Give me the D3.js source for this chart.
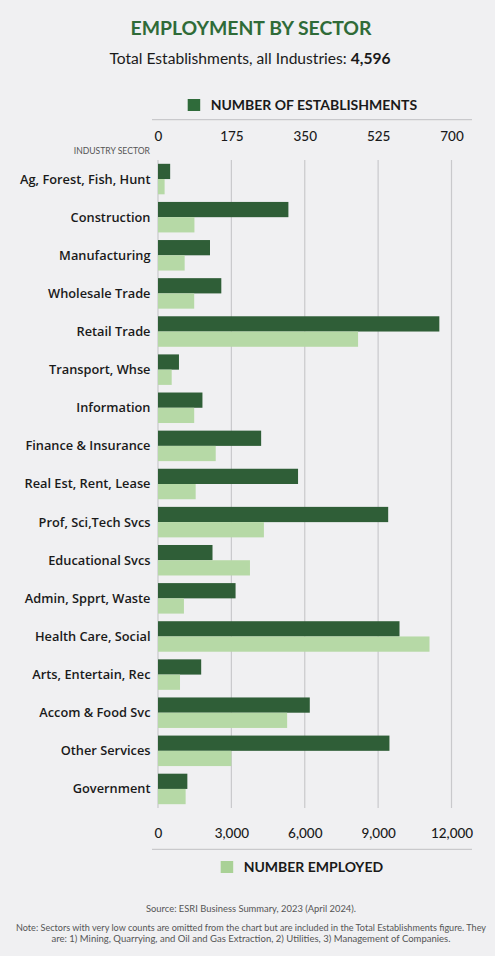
<!DOCTYPE html>
<html>
<head>
<meta charset="utf-8">
<script src="https://cdn.jsdelivr.net/npm/d3@7"></script>
<style>
  body { margin: 0; background: #f0f0f2; }
  svg { display: block; }
</style>
</head>
<body>
<div id="chart"></div>
<script>
const sectors = ["Ag, Forest, Fish, Hunt", "Construction", "Manufacturing", "Wholesale Trade",
  "Retail Trade", "Transport, Whse", "Information", "Finance & Insurance", "Real Est, Rent, Lease",
  "Prof, Sci,Tech Svcs", "Educational Svcs", "Admin, Spprt, Waste", "Health Care, Social",
  "Arts, Entertain, Rec", "Accom & Food Svc", "Other Services", "Government"];
const establishments = [29, 311, 124, 151, 671, 50, 106, 246, 334, 549, 130, 185, 576, 103, 362, 552, 70];
const employed = [270, 1490, 1090, 1480, 8180, 560, 1480, 2360, 1540, 4330, 3760, 1060, 11100, 900, 5280, 3000, 1130];
const estTicks = [0, 175, 350, 525, 700];
const empTicks = [0, 3000, 6000, 9000, 12000];

const W = 495, H = 956;
const margin = {top: 160, left: 158, right: 43.5, bottom: 148};
const dark = "#2f5e37", light = "#b6d9a6", grid = "#c9c9cc";

const svg = d3.select("#chart").append("svg")
  .attr("width", W).attr("height", H);

// title block
svg.append("text")
  .attr("x", 251).attr("y", 35)
  .attr("text-anchor", "middle")
  .attr("font-family", "Lato").attr("font-weight", 700).attr("font-size", 19.4)
  .attr("fill", "#2f6b38")
  .text("EMPLOYMENT BY SECTOR");

const sub = svg.append("text")
  .attr("x", 250).attr("y", 64)
  .attr("text-anchor", "middle")
  .attr("font-family", "Lato").attr("font-size", 15.6)
  .attr("fill", "#1a1a1a");
sub.append("tspan").text("Total Establishments, all Industries: ");
sub.append("tspan").attr("font-weight", 700).text("4,596");

const xEst = d3.scaleLinear().domain([0, 700]).range([margin.left, W - margin.right]);
const xEmp = d3.scaleLinear().domain([0, 12000]).range([margin.left, W - margin.right]);
const y = d3.scaleBand().domain(sectors)
  .range([margin.top, H - margin.bottom])
  .paddingInner(0.2).paddingOuter(0.1);

// vertical grid lines
svg.append("g").selectAll("line")
  .data(estTicks).join("line")
    .attr("x1", d => xEst(d)).attr("x2", d => xEst(d))
    .attr("y1", margin.top).attr("y2", H - margin.bottom)
    .attr("stroke", grid).attr("stroke-width", 1.2);

// top axis (establishments)
const topAxis = svg.append("g")
  .attr("transform", `translate(0,${margin.top})`)
  .call(d3.axisTop(xEst).tickValues(estTicks).tickSize(0).tickPadding(19));
topAxis.select(".domain").remove();
topAxis.selectAll("text")
  .attr("font-family", "Lato").attr("font-weight", 500).attr("font-size", 13.5)
  .attr("fill", "#1a1a1a");

// bottom axis (employed)
const botAxis = svg.append("g")
  .attr("transform", `translate(0,${H - margin.bottom})`)
  .call(d3.axisBottom(xEmp).tickValues(empTicks).tickSize(0).tickPadding(20)
    .tickFormat(d3.format(",")));
botAxis.select(".domain").remove();
botAxis.selectAll("text")
  .attr("font-family", "Lato").attr("font-weight", 500).attr("font-size", 13.5)
  .attr("fill", "#1a1a1a");

// separator lines
[119.7, 849.3].forEach(yy => {
  svg.append("line")
    .attr("x1", 152).attr("x2", 472).attr("y1", yy).attr("y2", yy)
    .attr("stroke", grid).attr("stroke-width", 1.2);
});

// bars
const bw = y.bandwidth() / 2;
svg.append("g").selectAll("rect")
  .data(sectors).join("rect")
    .attr("x", xEst(0))
    .attr("y", d => y(d))
    .attr("width", (d, i) => xEst(establishments[i]) - xEst(0))
    .attr("height", bw)
    .attr("fill", dark);
svg.append("g").selectAll("rect")
  .data(sectors).join("rect")
    .attr("x", xEmp(0))
    .attr("y", d => y(d) + bw)
    .attr("width", (d, i) => xEmp(employed[i]) - xEmp(0))
    .attr("height", bw)
    .attr("fill", light);

// category labels
svg.append("g").selectAll("text")
  .data(sectors).join("text")
    .attr("x", 150.5)
    .attr("y", d => y(d) + y.bandwidth() / 2)
    .attr("dy", "0.35em")
    .attr("text-anchor", "end")
    .attr("font-family", "Open Sans").attr("font-weight", 600).attr("font-size", 12.8)
    .attr("fill", "#1a1a1a")
    .text(d => d);

svg.append("text")
  .attr("x", 150).attr("y", 154)
  .attr("text-anchor", "end")
  .attr("font-family", "Lato").attr("font-size", 8.6)
  .attr("fill", "#555")
  .text("INDUSTRY SECTOR");

// legends
function legend(x, yy, color, label) {
  svg.append("rect").attr("x", x).attr("y", yy).attr("width", 12.5).attr("height", 12).attr("fill", color);
  svg.append("text")
    .attr("x", x + 23).attr("y", yy + 11.3)
    .attr("font-family", "Lato").attr("font-weight", 700).attr("font-size", 14)
    .attr("fill", "#1a1a1a")
    .text(label);
}
legend(187.7, 99, "#2f6b3a", "NUMBER OF ESTABLISHMENTS");
legend(220.7, 861, "#a9d196", "NUMBER EMPLOYED");

// source and note
const foot = [
  {t: "Source: ESRI Business Summary, 2023 (April 2024).", y: 912.3, w: 210},
  {t: "Note: Sectors with very low counts are omitted from the chart but are included in the Total Establishments figure. They", y: 930.7, w: 470},
  {t: "are: 1) Mining, Quarrying, and Oil and Gas Extraction, 2) Utilities, 3) Management of Companies.", y: 942.3, w: 399}
];
svg.append("g").selectAll("text")
  .data(foot).join("text")
    .attr("x", 251).attr("y", d => d.y)
    .attr("text-anchor", "middle")
    .attr("font-family", "Lato").attr("font-size", 8.5)
    .attr("fill", "#555")
    .attr("textLength", d => d.w).attr("lengthAdjust", "spacingAndGlyphs")
    .text(d => d.t);
</script>
</body>
</html>
